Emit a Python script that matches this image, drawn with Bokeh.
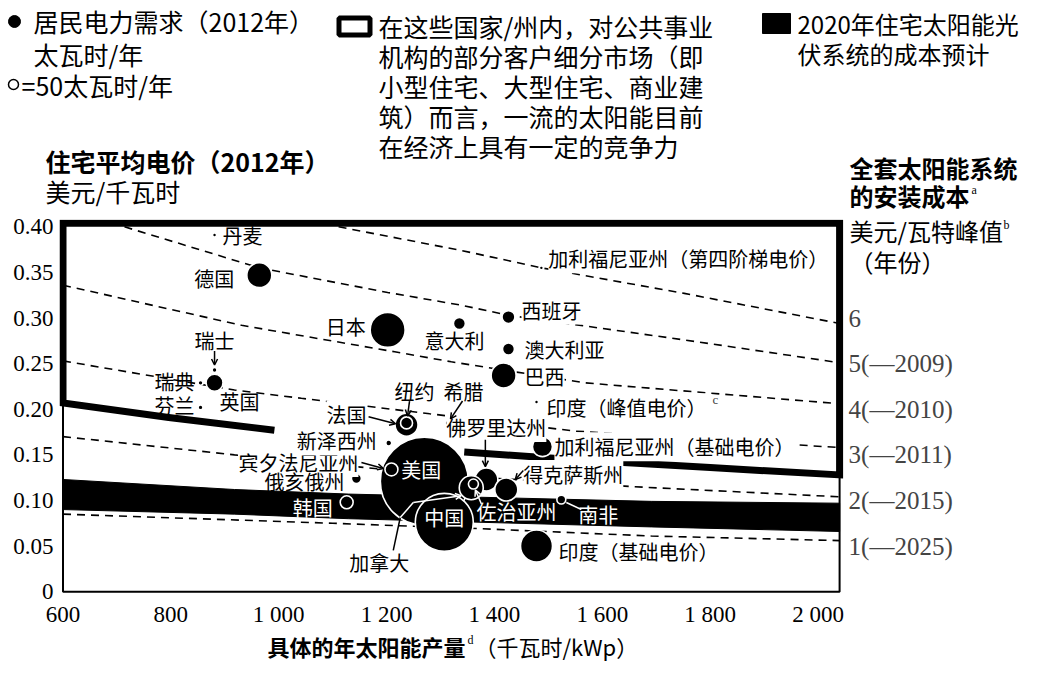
import numpy as np
from bokeh.plotting import figure
from bokeh.layouts import column
from bokeh.models import (Range1d, FixedTicker, Label, Arrow, OpenHead, ColumnDataSource)
from bokeh.embed import file_html
from bokeh.resources import INLINE

CJK = "Noto Sans CJK SC"
SERIF = "Liberation Serif"

# ---------------- data ----------------
names = ["美国", "中国", "日本", "印度（基础电价）", "德国", "巴西", "法国",
         "佛罗里达州", "得克萨斯州", "加拿大", "加利福尼亚州（基础电价）", "英国",
         "西班牙", "澳大利亚", "意大利", "俄亥俄州", "韩国", "宾夕法尼亚州", "纽约",
         "佐治亚州", "南非", "新泽西州", "丹麦", "瑞士", "瑞典", "芬兰", "希腊",
         "加利福尼亚州（第四阶梯电价）", "印度（峰值电价）"]
annual_yield = [1270, 1307, 1202, 1478, 964, 1417, 1237,
                1385, 1422, 1357, 1489, 881,
                1426, 1426, 1335, 1144, 1126, 1209, 1237,
                1361, 1524, 1204, 881, 881, 855, 855, 1313,
                1487, 1478]
res_price = [0.121, 0.076, 0.287, 0.050, 0.347, 0.237, 0.183,
             0.123, 0.112, 0.114, 0.159, 0.229,
             0.301, 0.266, 0.294, 0.124, 0.098, 0.134, 0.185,
             0.118, 0.101, 0.163, 0.391, 0.243, 0.229, 0.202, 0.185,
             0.355, 0.208]
demand_twh = [3872, 1682, 612, 512, 312, 312, 265,
              265, 265, 288, 200, 144,
              84, 72, 72, 50, 84, 84, 72,
              50, 40, 18, 8, 12, 12, 12, 12,
              8, 8]

x_ticks = [600, 800, 1000, 1200, 1400, 1600, 1800, 2000]
x_tick_labels = ["600", "800", "1 000", "1 200", "1 400", "1 600", "1 800", "2 000"]
y_ticks = [0.0, 0.05, 0.10, 0.15, 0.20, 0.25, 0.30, 0.35, 0.40]
y_tick_labels = ["0", "0.05", "0.10", "0.15", "0.20", "0.25", "0.30", "0.35", "0.40"]
cost_ticks = [0.30, 0.25, 0.20, 0.15, 0.10, 0.05]
cost_labels = ["6", "5(—2009)", "4(—2010)", "3(—2011)", "2(—2015)", "1(—2025)"]

# iso-cost curves (installed system cost, $/Wp)
iso6_x = [1111, 1339, 1487, 1752, 2040]
iso6_y = [0.400, 0.374, 0.355, 0.327, 0.294]
iso5_x = [714, 964, 1202, 1339, 1426, 1752, 2040]
iso5_y = [0.400, 0.355, 0.328, 0.314, 0.303, 0.276, 0.251]
iso4_x = [600, 931, 1215, 1320, 1567, 2040]
iso4_y = [0.336, 0.292, 0.263, 0.252, 0.229, 0.206]
iso3_x = [600, 918, 1042, 1280, 1550, 2040]
iso3_y = [0.253, 0.221, 0.212, 0.195, 0.176, 0.158]
iso2_x = [600, 918, 1300, 1660, 2040]
iso2_y = [0.170, 0.150, 0.128, 0.115, 0.104]
iso1_x = [600, 1100, 1376, 1691, 2040]
iso1_y = [0.085, 0.075, 0.069, 0.061, 0.056]

# 2020 cost projection band
band_x = [600, 918, 1129, 1691, 2040]
band_top = [0.123, 0.112, 0.107, 0.099, 0.097]
band_bottom = [0.090, 0.085, 0.080, 0.071, 0.066]

# competitive region outline
box_x = [1344, 1543, 1800, 2040, 2040, 600, 600, 796, 992]
box_y = [0.153, 0.145, 0.136, 0.128, 0.404, 0.404, 0.207, 0.191, 0.177]

# ---------------- geometry ----------------
W = 1021
TOP_H, MAIN_H, BOT_H = 213, 416, 32
BL, BT, BB = 59, 6, 34
X0 = 593.5
XPX = 0.5393
X1 = X0 + (W - BL) / XPX
Y0, Y1 = -0.002, 0.408
YPX = (MAIN_H - BT - BB) / (Y1 - Y0)

def no_frame_align(fig):
    if "frame_align" in fig.properties():
        fig.frame_align = False

# ---------------- top figure (legend, titles) ----------------
top = figure(width=W, height=TOP_H, x_range=Range1d(0, W), y_range=Range1d(TOP_H, 0),
             x_axis_type=None, y_axis_type=None, output_backend="svg", toolbar_location=None,
             min_border=0, outline_line_color=None)
top.background_fill_color = "white"
top.border_fill_color = "white"
no_frame_align(top)

def ttext(fig, x, y, text, size=25, bold=False, font=CJK, align="left", color="black"):
    fig.add_layout(Label(x=x, y=y, text=text, text_font=font, text_font_size=f"{size}px",
                         text_font_style="bold" if bold else "normal", text_align=align,
                         text_baseline="middle", text_color=color))

# legend 1: bubble
top.scatter([14], [21], size=12, marker="circle", fill_color="black", line_color="black")
ttext(top, 33, 20, "居民电力需求（2012年）")
ttext(top, 33, 53, "太瓦时/年")
top.scatter([13], [84], size=10, marker="circle", fill_color="white", line_color="black",
            line_width=1.5)
ttext(top, 21, 84, "=50太瓦时/年")
# legend 2: outlined region
top.rect([354], [26], width=31, height=17, fill_color=None, line_color="black", line_width=5)
for i, line in enumerate(["在这些国家/州内，对公共事业", "机构的部分客户细分市场（即",
                          "小型住宅、大型住宅、商业建", "筑）而言，一流的太阳能目前",
                          "在经济上具有一定的竞争力"]):
    ttext(top, 378, 25 + 30 * i, line)
# legend 3: band
top.rect([776], [23], width=28, height=20, fill_color="black", line_color="black")
ttext(top, 797, 23, "2020年住宅太阳能光", size=24)
ttext(top, 797, 53, "伏系统的成本预计", size=24)
# y-axis title
ttext(top, 45, 160, "住宅平均电价（2012年）", bold=True)
ttext(top, 45, 190, "美元/千瓦时")
# right title (first two lines)
ttext(top, 849, 167, "全套太阳能系统", size=24, bold=True)
ttext(top, 849, 195, "的安装成本", size=24, bold=True)
ttext(top, 971, 189, "a", size=12, font=SERIF)

# ---------------- main figure ----------------
p = figure(width=W, height=MAIN_H, x_range=Range1d(X0, X1), y_range=Range1d(Y0, Y1),
           output_backend="svg", toolbar_location=None,
           min_border_left=BL, min_border_right=0, min_border_top=BT, min_border_bottom=BB)
p.xgrid.visible = False
p.ygrid.visible = False
p.outline_line_color = None
p.background_fill_color = "white"
p.border_fill_color = "white"
no_frame_align(p)

def style_axis(ax, standoff):
    ax.axis_line_color = None
    ax.major_tick_line_color = None
    ax.minor_tick_line_color = None
    ax.major_tick_in = 0
    ax.major_tick_out = 0
    ax.major_label_text_font = SERIF
    ax.major_label_text_font_size = "23px"
    ax.major_label_text_color = "black"
    ax.major_label_standoff = standoff

xa = p.xaxis[0]
xa.ticker = FixedTicker(ticks=x_ticks)
xa.major_label_overrides = {t: l for t, l in zip(x_ticks, x_tick_labels)}
style_axis(xa, 8)
ya = p.yaxis[0]
ya.ticker = FixedTicker(ticks=y_ticks)
ya.major_label_overrides = {t: l for t, l in zip(y_ticks, y_tick_labels)}
style_axis(ya, 6)

# plot-area frame (thin) from the box extents
p.line([box_x[6], box_x[6], box_x[3], box_x[3]], [box_y[6], 0, 0, box_y[3]],
       line_color="black", line_width=2)

# iso-cost dashed curves
for xs, ys in [(iso6_x, iso6_y), (iso5_x, iso5_y), (iso4_x, iso4_y),
               (iso3_x, iso3_y), (iso2_x, iso2_y), (iso1_x, iso1_y)]:
    p.line(xs, ys, line_color="black", line_width=1.6, line_dash="8 6")

# 2020 projection band
p.patch(band_x + band_x[::-1], band_top + band_bottom[::-1], fill_color="black", line_color="black")

# competitive region outline
p.line(box_x, box_y, line_color="black", line_width=7, line_join="miter")

# bubbles
sizes = [10 * np.sqrt(d / 50.0) for d in demand_twh]
src = ColumnDataSource(dict(x=annual_yield, y=res_price, s=sizes, name=names))
p.scatter("x", "y", size="s", source=src, marker="circle",
          fill_color="black", line_color="white", line_width=1.6)

# cost scale labels at the right edge of the region
for v, t in zip(cost_ticks, cost_labels):
    p.add_layout(Label(x=box_x[3], y=v, x_offset=9, text=t, text_font=SERIF,
                       text_font_size="25px", text_baseline="middle", text_align="left"))

# ---------------- point labels ----------------
pos = {n: (x, y) for n, x, y in zip(names, annual_yield, res_price)}
# name: (dx px, dy px (down +), align, colour, white background)
label_spec = {
    "巴西": (21, 1, "left", "black", True),
    "法国": (-40, -10, "right", "black", True),
    "佛罗里达州": (10, -52, "center", "black", True),
    "得克萨斯州": (17, -15, "left", "black", True),
    "加利福尼亚州（基础电价）": (12, 0, "left", "black", True),
    "西班牙": (13, -7, "left", "black", True),
    "宾夕法尼亚州": (-33, -7, "right", "black", True),
    "纽约": (8, -31, "center", "black", True),
    "新泽西州": (-12, -2, "right", "black", True),
    "希腊": (16, -31, "center", "black", True),
    "加利福尼亚州（第四阶梯电价）": (7, -9, "left", "black", True),
    "印度（峰值电价）": (10, 6, "left", "black", True),
    "美国": (-3, -12, "center", "white", False),
    "中国": (0, -5, "center", "white", False),
    "日本": (-22, -3, "right", "black", False),
    "印度（基础电价）": (22, 5, "left", "black", False),
    "德国": (-25, 3, "right", "black", False),
    "加拿大": (-92, 75, "center", "black", False),
    "英国": (5, 19, "left", "black", False),
    "澳大利亚": (16, 0, "left", "black", False),
    "意大利": (-5, 17, "center", "black", False),
    "俄亥俄州": (-12, 3, "right", "black", False),
    "韩国": (-14, 5, "right", "white", False),
    "佐治亚州": (43, 27, "center", "white", False),
    "南非": (37, 15, "center", "white", False),
    "丹麦": (8, 0, "left", "black", False),
    "瑞士": (0, -30, "center", "black", False),
    "瑞典": (-6, -1, "right", "black", False),
    "芬兰": (-6, -2, "right", "black", False),
}
for n, (dx, dy, al, col, bg) in label_spec.items():
    x, y = pos[n]
    kw = dict(background_fill_color="white") if bg else {}
    p.add_layout(Label(x=x, y=y, x_offset=dx, y_offset=-dy, text=n, text_font=CJK,
                       text_font_size="20px", text_color=col, text_align=al,
                       text_baseline="middle", **kw))
xi, yi = pos["印度（峰值电价）"]
p.add_layout(Label(x=xi, y=yi, x_offset=176, y_offset=2, text="c", text_font=SERIF,
                   text_font_size="13px", text_baseline="middle"))

# arrows / leader lines, relative to their points (px offsets, down +)
def pt(n, dx, dy):
    x, y = pos[n]
    return x + dx / XPX, y - dy / YPX

arrow_spec = [
    ("瑞士", (0, -19), (0, -5), "black", True),
    ("法国", (-38, -8), (-11, -1), "black", True),
    ("纽约", (3, -22), (1, -7), "black", True),
    ("希腊", (15, -22), (3, -4), "black", True),
    ("宾夕法尼亚州", (-30, -7), (-8, -1), "black", True),
    ("佛罗里达州", (-1, -40), (-1, -13), "black", True),
    ("得克萨斯州", (17, -19), (9, -10), "black", True),
    ("佐治亚州", (8, 20), (2, 6), "white", True),
    ("南非", (5, 3), (20, 10), "white", False),
    ("加拿大", (-78, 63), (-71, 30), "black", False),
    ("加拿大", (-71, 30), (-58, 15), "white", False),
    ("加拿大", (-58, 15), (-10, 8), "white", True),
]
for n, s, e, col, head in arrow_spec:
    xs, ys = pt(n, *s)
    xe, ye = pt(n, *e)
    end = OpenHead(size=6, line_color=col, line_width=1.5) if head else None
    p.add_layout(Arrow(x_start=xs, y_start=ys, x_end=xe, y_end=ye, end=end,
                       line_color=col, line_width=1.5))

# right title (lines 3-4), in page pixels relative to the main frame
FL = BL
FB = TOP_H + MAIN_H - BB

def mtext(rx, ry, text, size=24, bold=False, font=CJK):
    p.add_layout(Label(x=rx - FL, y=FB - ry, x_units="screen", y_units="screen", text=text,
                       text_font=font, text_font_size=f"{size}px",
                       text_font_style="bold" if bold else "normal",
                       text_align="left", text_baseline="middle", text_color="black"))

mtext(849, 232, "美元/瓦特峰值")
mtext(1003, 226, "b", size=12, font=SERIF)
mtext(849, 263, "（年份）")

# ---------------- bottom figure (x title) ----------------
bot = figure(width=W, height=BOT_H, x_range=Range1d(0, W), y_range=Range1d(BOT_H, 0),
             x_axis_type=None, y_axis_type=None, output_backend="svg", toolbar_location=None,
             min_border=0, outline_line_color=None)
bot.background_fill_color = "white"
bot.border_fill_color = "white"
no_frame_align(bot)
ttext(bot, 267, 16, "具体的年太阳能产量", size=22, bold=True)
ttext(bot, 467, 10, "d", size=12, font=SERIF)
ttext(bot, 474, 16, "（千瓦时/kWp）", size=22)

layout = column(top, p, bot, spacing=0)
open("out.html", "w").write(file_html(layout, INLINE))
